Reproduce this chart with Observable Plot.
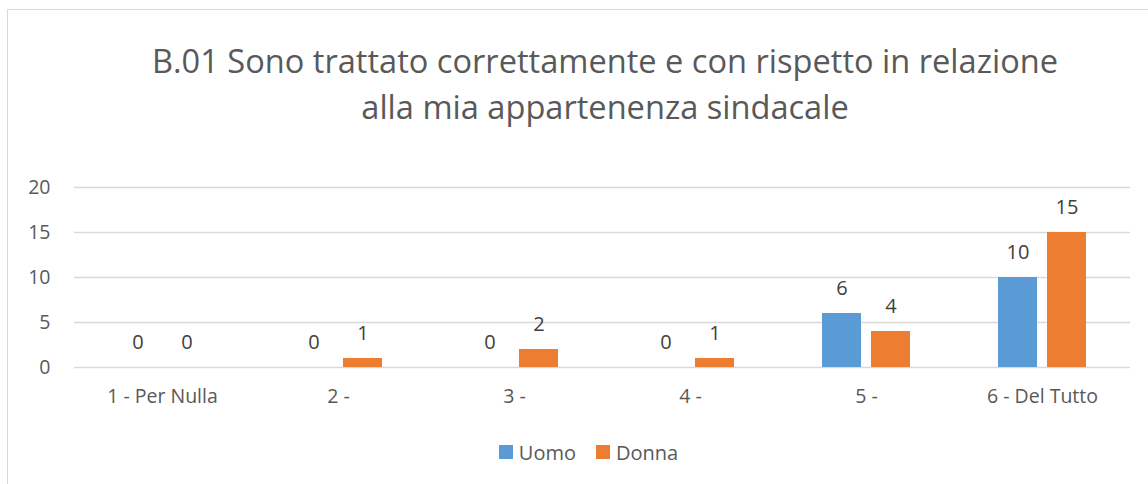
<!DOCTYPE html>
<html>
<head>
<meta charset="utf-8">
<script src="https://cdn.jsdelivr.net/npm/d3@7"></script>
<script src="https://cdn.jsdelivr.net/npm/@observablehq/plot@0.6"></script>
<style>
  html, body { margin: 0; padding: 0; background: #fff; }
  body { width: 1148px; height: 484px; position: relative; overflow: hidden; font-family: "Open Sans", sans-serif; }
  #frame { position: absolute; left: 7px; top: 9px; width: 1160px; height: 500px; border-left: 1.5px solid #d9d9d9; border-top: 1.5px solid #d9d9d9; }
  #title { position: absolute; left: 0; width: 1210px; top: 38px; text-align: center; font-size: 32.6px; line-height: 46px; color: #595959; }
  #chart { position: absolute; left: 0; top: 150px; }
  #legend { position: absolute; top: 438px; left: 0; width: 1177px; text-align: center; font-size: 20px; color: #595959; }
  #legend span.item { display: inline-flex; align-items: center; margin: 0 10px; }
  #legend span.sw { display: inline-block; width: 14px; height: 14px; margin-right: 6px; }
</style>
</head>
<body>
<div id="frame"></div>
<div id="title">B.01 Sono trattato correttamente e con rispetto in relazione<br>alla mia appartenenza sindacale</div>
<div id="chart"></div>
<div id="legend"></div>
<script>
const categories = ["1 - Per Nulla", "2 -", "3 -", "4 -", "5 -", "6 - Del Tutto"];
const series = ["Uomo", "Donna"];
const uomo = [0, 0, 0, 0, 6, 10];
const donna = [0, 1, 2, 1, 4, 15];
const yTicks = [0, 5, 10, 15, 20];
const colors = ["#5B9BD5", "#ED7D31"];

const data = [];
categories.forEach((c, i) => {
  data.push({cat: c, s: "Uomo", v: uomo[i]});
  data.push({cat: c, s: "Donna", v: donna[i]});
});

const chart = Plot.plot({
  width: 1148,
  height: 270,
  marginLeft: 72,
  marginRight: 16,
  marginTop: 37,
  marginBottom: 53,
  style: {fontFamily: "'Open Sans', sans-serif", fontSize: "19.5px", color: "#595959", background: "transparent"},
  fx: {domain: categories, padding: 0, label: null, axis: "bottom", tickSize: 0, tickPadding: 22},
  x: {domain: series, paddingInner: 0.2, paddingOuter: 0.867, axis: null},
  y: {domain: [0, 20], ticks: yTicks, label: null, tickSize: 0, tickPadding: 24},
  color: {domain: series, range: colors},
  marks: [
    Plot.gridY(yTicks, {stroke: "#d9d9d9", strokeOpacity: 1, strokeWidth: 1.5}),
    Plot.barY(data, {fx: "cat", x: "s", y: "v", fill: "s"}),
    Plot.text(data, {fx: "cat", x: "s", y: "v", text: d => String(d.v), dy: -25, fill: "#404040", fontSize: 20})
  ]
});
document.getElementById("chart").appendChild(chart);

const legend = document.getElementById("legend");
series.forEach((s, i) => {
  const item = document.createElement("span");
  item.className = "item";
  const sw = document.createElement("span");
  sw.className = "sw";
  sw.style.background = colors[i];
  item.appendChild(sw);
  item.appendChild(document.createTextNode(s));
  legend.appendChild(item);
});
</script>
</body>
</html>
